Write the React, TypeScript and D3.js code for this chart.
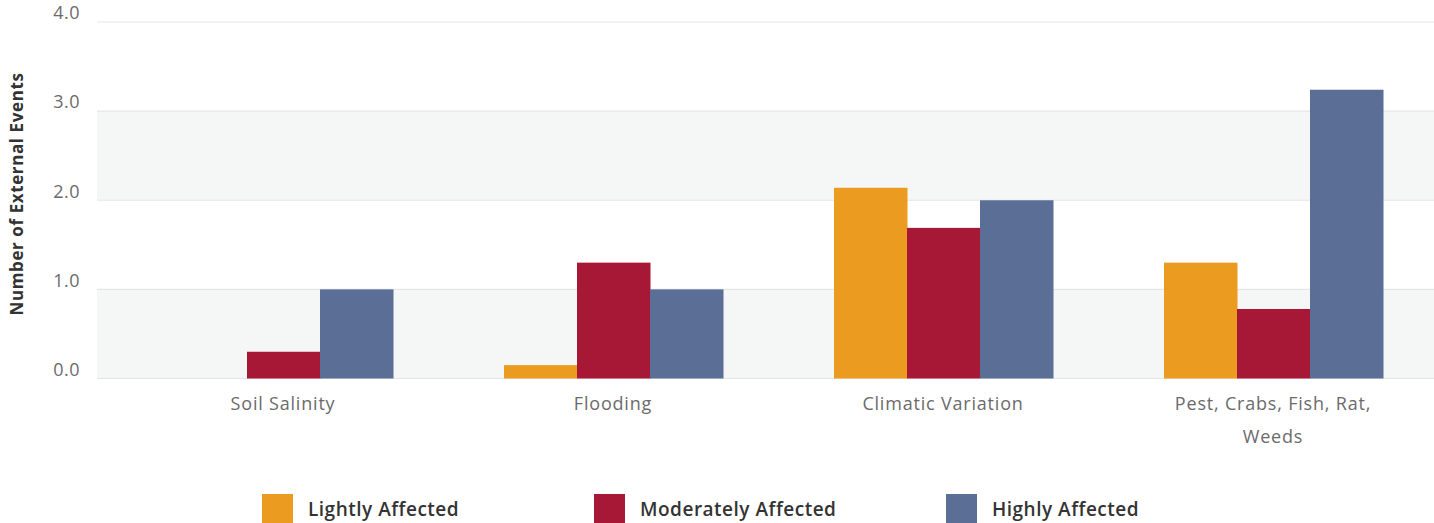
import React from "react";
import * as d3 from "d3";

const categories = ["Soil Salinity", "Flooding", "Climatic Variation", "Pest, Crabs, Fish, Rat, Weeds"];
const categoryLines = [["Soil Salinity"], ["Flooding"], ["Climatic Variation"], ["Pest, Crabs, Fish, Rat,", "Weeds"]];
const seriesNames = ["Lightly Affected", "Moderately Affected", "Highly Affected"];
const lightly = [0, 0.15, 2.14, 1.3];
const moderately = [0.3, 1.3, 1.69, 0.78];
const highly = [1.0, 1.0, 2.0, 3.24];
const colors = ["#EB9B1F", "#A71837", "#5B6E96"];
const yTicks = [0, 1, 2, 3, 4];
const yTickLabels = ["0.0", "1.0", "2.0", "3.0", "4.0"];

const W = 1434;
const H = 523;

export default function App() {
  const series = [lightly, moderately, highly];
  const y = d3.scaleLinear().domain([0, 4]).range([378.5, 22]);
  const x0 = d3.scaleBand<string>().domain(categories).range([118, 1438]).padding(0);
  const x1 = d3.scaleBand<string>().domain(seriesNames).range([56, 56 + 219]).padding(0);
  const plotLeft = 97;
  const plotRight = W;
  const legendX = [262, 594, 946];
  const labelFont = "'Open Sans', sans-serif";

  return (
    <svg width={W} height={H} style={{ position: "absolute", left: 0, top: 0, display: "block" }}>
      <rect x={0} y={0} width={W} height={H} fill="#fff" />
      {yTicks.slice(0, -1).map((t, i) =>
        i % 2 === 0 ? (
          <rect key={"b" + i} x={plotLeft} y={y(t + 1)} width={plotRight - plotLeft} height={y(t) - y(t + 1)} fill="#F5F6F6" />
        ) : null
      )}
      {yTicks.map((t) => (
        <line key={"g" + t} x1={plotLeft} x2={plotRight} y1={y(t)} y2={y(t)} stroke="#E4E6E6" strokeWidth={1.2} />
      ))}
      {yTicks.map((t, i) => (
        <text
          key={"yl" + t}
          x={80}
          y={y(t)}
          dy="-0.15em"
          textAnchor="end"
          fontFamily={labelFont}
          fontWeight={400}
          fontSize={18}
          letterSpacing={0.5}
          fill="#6b6b6b"
        >
          {yTickLabels[i]}
        </text>
      ))}
      <text
        transform="translate(23,194) rotate(-90)"
        textAnchor="middle"
        fontFamily="'Open Sans', sans-serif"
        fontWeight={700}
        fontSize={17}
        letterSpacing={0.6}
        fill="#333"
      >
        Number of External Events
      </text>
      {categories.map((c, ci) => (
        <g key={c} transform={`translate(${x0(c)},0)`}>
          {seriesNames.map((s, si) => {
            const v = series[si][ci];
            return (
              <rect
                key={s}
                x={x1(s)}
                y={y(v)}
                width={x1.bandwidth() + 0.5}
                height={y(0) - y(v)}
                fill={colors[si]}
              />
            );
          })}
        </g>
      ))}
      {categories.map((c, ci) => {
        const cx = (x0(c) as number) + x0.bandwidth() / 2;
        return (
          <text
            key={"xl" + c}
            x={cx}
            y={410}
            textAnchor="middle"
            fontFamily={labelFont}
            fontWeight={400}
            fontSize={18}
            letterSpacing={0.8}
            fill="#6b6b6b"
          >
            {categoryLines[ci].map((line, li) => (
              <tspan key={li} x={cx} dy={li === 0 ? 0 : 33}>
                {line}
              </tspan>
            ))}
          </text>
        );
      })}
      {seriesNames.map((s, si) => (
        <g key={"lg" + s}>
          <rect x={legendX[si]} y={494} width={31} height={29} fill={colors[si]} />
          <text
            x={legendX[si] + 46}
            y={516}
            fontFamily="'Open Sans', sans-serif"
            fontWeight={600}
            fontSize={19}
            letterSpacing={0.5}
            fill="#333"
          >
            {s}
          </text>
        </g>
      ))}
    </svg>
  );
}
